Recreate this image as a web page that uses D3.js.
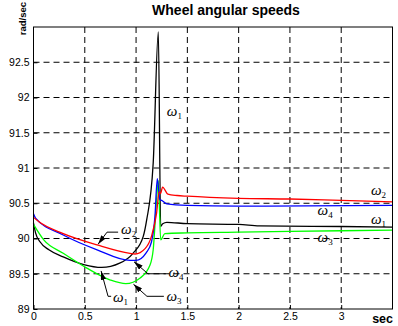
<!DOCTYPE html>
<html>
<head>
<meta charset="utf-8">
<script src="https://cdn.jsdelivr.net/npm/d3@7"></script>
<style>
	body { margin: 0; background: #fff; }
	text { font-family: Arial, "Liberation Sans", sans-serif; fill: #000; }
	.grid line { stroke: #000; stroke-width: 1; stroke-dasharray: 6,4; }
	.tick text { font-size: 10.5px; }
	.omega { font-family: "Liberation Serif", "Times New Roman", serif; font-style: italic; font-size: 15px; }
	.omega .sub { font-style: normal; font-size: 9px; }
</style>
</head>
<body>
<div id="chart"></div>
<script>
var width = 398, height = 326;
var plotLeft = 33.5, plotRight = 392.5, plotTop = 27, plotBottom = 309;

var xTicks = [0, 0.5, 1, 1.5, 2, 2.5, 3];
var yTicks = [89, 89.5, 90, 90.5, 91, 91.5, 92, 92.5];

// [time (sec), speed (rad/sec)]
var omega1 = [[0,90.22],[0.02,90.08],[0.065,89.95],[0.15,89.84],[0.29,89.74],[0.49,89.63],[0.665,89.59],
	[0.84,89.65],[0.97,89.79],[1.07,90.03],[1.103,90.26],[1.167,91.07],[1.217,92.93],[1.24,90.17],
	[1.26,90.21],[1.3,90.23],[1.5,90.21],[2.0,90.2],[2.2,90.18],[3.0,90.17],[3.5,90.16]];
var omega2 = [[0,90.3],[0.05,90.24],[0.29,90.07],[0.62,89.91],[0.94,89.79],[0.99,89.78],[1.09,89.86],
	[1.15,90.03],[1.2,90.36],[1.225,90.66],[1.24,90.64],[1.258,90.73],[1.31,90.63],[1.4,90.61],
	[1.5,90.6],[2.0,90.57],[2.5,90.56],[3.0,90.54],[3.5,90.52]];
var omega3 = [[0,90.2],[0.1,89.98],[0.29,89.79],[0.52,89.58],[0.75,89.41],[0.9,89.36],[1.04,89.44],
	[1.135,89.62],[1.167,89.84],[1.2,90.55],[1.217,90.82],[1.24,89.98],[1.28,90.07],[1.5,90.08],
	[2.0,90.09],[2.5,90.1],[3.0,90.11],[3.5,90.12]];
var omega4 = [[0,90.35],[0.02,90.29],[0.29,90.05],[0.62,89.84],[0.94,89.69],[1.0,89.69],[1.1,89.8],
	[1.15,89.95],[1.184,90.31],[1.207,90.85],[1.232,90.55],[1.25,90.54],[1.3,90.49],[1.5,90.47],
	[2.0,90.46],[3.5,90.47]];

var series = [
	{ name: "1", color: "#000000", values: omega1 },
	{ name: "3", color: "#00ff00", values: omega3 },
	{ name: "4", color: "#0000ff", values: omega4 },
	{ name: "2", color: "#ff0000", values: omega2 }
];

// labels: [sub, t, v], arrows: list of [t, v] ending at the arrow tip
var labels = [
	["1", 1.30, 91.74], ["2", 3.29, 90.62], ["4", 2.77, 90.33], ["1", 3.29, 90.21], ["3", 2.77, 89.95],
	["2", 0.854, 90.06], ["4", 1.315, 89.45], ["3", 1.296, 89.11], ["1", 0.775, 89.1]
];
var arrows = [
	[[0.825,90.09],[0.717,90.09],[0.63,89.92]],
	[[1.29,89.5],[1.116,89.5],[0.98,89.67]],
	[[1.271,89.18],[1.106,89.18],[0.975,89.35]],
	[[0.757,89.18],[0.727,89.18],[0.659,89.54]]
];

var x = d3.scaleLinear().domain([0, 3.5]).range([plotLeft, plotRight]);
var y = d3.scaleLinear().domain([89, 93]).range([plotBottom, plotTop]);

var svg = d3.select("#chart")
	.append("svg")
		.attr("width", width)
		.attr("height", height);

svg.append("defs").append("marker")
	.attr("id", "head")
	.attr("markerUnits", "userSpaceOnUse")
	.attr("viewBox", "0 0 10 6")
	.attr("refX", 10).attr("refY", 3)
	.attr("markerWidth", 9).attr("markerHeight", 5.5)
	.attr("orient", "auto")
	.append("path")
		.attr("d", "M0,0L10,3L0,6Z")
		.attr("fill", "#000");

// grid
var grid = svg.append("g").attr("class", "grid");
grid.selectAll(".gx").data(xTicks.slice(1)).enter().append("line")
	.attr("x1", x).attr("x2", x).attr("y1", plotTop).attr("y2", plotBottom);
grid.selectAll(".gy").data(yTicks.slice(1)).enter().append("line")
	.attr("x1", plotLeft).attr("x2", plotRight).attr("y1", y).attr("y2", y);

// axes
svg.append("g")
	.attr("transform", "translate(0," + plotBottom + ")")
	.call(d3.axisBottom(x).tickValues(xTicks).tickSize(-4).tickPadding(4).tickFormat(d3.format("")));
svg.append("g")
	.attr("transform", "translate(" + plotLeft + ",0)")
	.call(d3.axisLeft(y).tickValues(yTicks).tickSize(-4).tickPadding(4).tickFormat(d3.format("")));
svg.selectAll(".domain").remove();
svg.selectAll(".tick line").attr("stroke", "#000");

// curves
var line = d3.line()
	.x(function(d) { return x(d[0]); })
	.y(function(d) { return y(d[1]); })
	.curve(d3.curveMonotoneX);

svg.selectAll(".curve").data(series).enter().append("path")
	.attr("class", "curve")
	.attr("d", function(d) { return line(d.values); })
	.attr("fill", "none")
	.attr("stroke", function(d) { return d.color; })
	.attr("stroke-width", 1.3);

// frame
svg.append("rect")
	.attr("x", plotLeft).attr("y", plotTop)
	.attr("width", plotRight - plotLeft).attr("height", plotBottom - plotTop)
	.attr("fill", "none").attr("stroke", "#000").attr("stroke-width", 1);

// annotations
var arrowLine = d3.line()
	.x(function(d) { return x(d[0]); })
	.y(function(d) { return y(d[1]); });
svg.selectAll(".arrow").data(arrows).enter().append("path")
	.attr("class", "arrow")
	.attr("d", arrowLine)
	.attr("fill", "none")
	.attr("stroke", "#000")
	.attr("stroke-width", 1)
	.attr("marker-end", "url(#head)");

var lab = svg.selectAll(".omega").data(labels).enter().append("text")
	.attr("class", "omega")
	.attr("x", function(d) { return x(d[1]); })
	.attr("y", function(d) { return y(d[2]); });
lab.append("tspan").text("ω");
lab.append("tspan").attr("class", "sub").attr("dy", 3).text(function(d) { return d[0]; });

// titles
svg.append("text")
	.attr("x", 226).attr("y", 15)
	.attr("text-anchor", "middle")
	.attr("font-weight", "bold").attr("font-size", 14)
	.text("Wheel angular speeds");
svg.append("text")
	.attr("transform", "translate(25.5,2) rotate(-90)")
	.attr("text-anchor", "end")
	.attr("font-weight", "bold").attr("font-size", 9.5)
	.text("rad/sec");
svg.append("text")
	.attr("x", 393).attr("y", 323)
	.attr("text-anchor", "end")
	.attr("font-weight", "bold").attr("font-size", 12.5)
	.text("sec");
</script>
</body>
</html>
